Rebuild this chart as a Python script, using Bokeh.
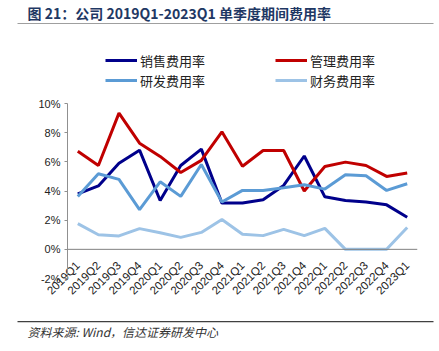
from bokeh.plotting import figure
from bokeh.layouts import column
from bokeh.models import (FactorRange, Range1d, FixedTicker, PrintfTickFormatter, Span,
                          Legend, LegendItem, Label)
from bokeh.embed import file_html
from bokeh.resources import INLINE
import math

quarters = ["2019Q1", "2019Q2", "2019Q3", "2019Q4", "2020Q1", "2020Q2", "2020Q3", "2020Q4",
            "2021Q1", "2021Q2", "2021Q3", "2021Q4", "2022Q1", "2022Q2", "2022Q3", "2022Q4", "2023Q1"]
sales_rate = [3.8, 4.35, 5.9, 6.8, 3.35, 5.75, 6.87, 3.17, 3.17, 3.4, 4.38, 6.4, 3.6, 3.35, 3.25, 3.05, 2.2]
admin_rate = [6.73, 5.75, 9.34, 7.28, 6.37, 5.27, 6.1, 8.06, 5.7, 6.78, 6.78, 4.0, 5.68, 5.98, 5.75, 5.0, 5.23]
rnd_rate = [3.63, 5.18, 4.8, 2.72, 4.63, 3.63, 5.82, 3.25, 4.04, 4.04, 4.22, 4.43, 4.13, 5.11, 5.04, 4.04, 4.5]
fin_rate = [1.76, 1.0, 0.92, 1.42, 1.14, 0.82, 1.16, 2.05, 1.03, 0.94, 1.37, 0.94, 1.44, 0.0, 0.0, 0.0, 1.5]
series_names = ["销售费用率", "管理费用率", "研发费用率", "财务费用率"]
y_ticks = [-2, 0, 2, 4, 6, 8, 10]
title_text = "图 21：公司 2019Q1-2023Q1 单季度期间费用率"
source_text = "资料来源: Wind，信达证券研发中心"

colors = ["#00008B", "#C00000", "#5B9BD5", "#9DC3E6"]


def blank(h):
    f = figure(width=439, height=h, output_backend="svg", toolbar_location=None,
               x_range=Range1d(0, 439), y_range=Range1d(0, h),
               x_axis_location=None, y_axis_location=None, frame_align=False,
               min_border=0, min_border_left=0, min_border_right=0, min_border_top=0, min_border_bottom=0)
    f.outline_line_color = None
    f.xgrid.grid_line_color = None
    f.ygrid.grid_line_color = None
    return f


def ruled(h, side):
    # a strip whose frame spans the rule's width; its bare x axis line is the rule
    f = figure(width=439, height=h, output_backend="svg", toolbar_location=None,
               x_range=Range1d(17, 433), y_range=Range1d(0, h),
               x_axis_location=side, y_axis_location=None, frame_align=False,
               min_border=0, min_border_left=17, min_border_right=6, min_border_top=0, min_border_bottom=0)
    f.outline_line_color = None
    f.xgrid.grid_line_color = None
    f.ygrid.grid_line_color = None
    f.xaxis.ticker = FixedTicker(ticks=[])
    f.xaxis.axis_line_color = "#404040"
    f.xaxis.axis_line_width = 2
    f.xaxis.major_tick_out = 0
    f.xaxis.major_tick_in = 0
    f.xaxis.minor_tick_out = 0
    f.xaxis.minor_tick_in = 0
    f.xaxis.major_label_standoff = 0
    return f


# title strip with rule underneath
TITLE_H = 24
tfig = ruled(TITLE_H, "below")
tfig.add_layout(Label(x=27, y=TITLE_H - 12, text=title_text, text_font="Noto Sans CJK SC",
                      text_font_size="14px", text_font_style="bold", text_color="#1F3864",
                      text_baseline="middle"))

# legend strip
LEG_H = 66
lfig = blank(LEG_H)
dummies = {n: lfig.line([0], [0], line_color=c, line_width=3) for n, c in zip(series_names, colors)}
order = ["销售费用率", "研发费用率", "管理费用率", "财务费用率"]
legend = Legend(items=[LegendItem(label=n, renderers=[dummies[n]]) for n in order],
                ncols=2, location=(105, 0), glyph_width=32, glyph_height=20, label_standoff=3,
                label_width=135, label_height=20, spacing=0, padding=0, margin=0,
                border_line_color=None, background_fill_alpha=0,
                label_text_font="Noto Sans CJK SC", label_text_font_size="13px",
                label_text_color="#222222")
lfig.add_layout(legend, "center")

# main chart
p = figure(width=439, height=231, output_backend="svg", toolbar_location=None,
           x_range=FactorRange(*quarters), y_range=Range1d(-2, 10), frame_align=False,
           min_border_left=67, min_border_right=22, min_border_top=13, min_border_bottom=43)
p.x_range.range_padding = 0
p.outline_line_color = None
p.xgrid.grid_line_color = None
p.ygrid.grid_line_color = None

for vals, c in zip([sales_rate, admin_rate, rnd_rate, fin_rate], colors):
    p.line(quarters, vals, line_color=c, line_width=3)

p.add_layout(Span(location=0, dimension="width", line_color="#808080", line_width=1))

p.yaxis.ticker = FixedTicker(ticks=y_ticks)
p.yaxis.formatter = PrintfTickFormatter(format="%d%%")
p.yaxis.axis_line_color = "#909090"
p.yaxis.major_tick_line_color = "#909090"
p.yaxis.major_tick_in = 0
p.yaxis.major_tick_out = 3
p.yaxis.minor_tick_line_color = None
p.yaxis.major_label_text_font = "Liberation Sans"
p.yaxis.major_label_text_font_size = "11px"
p.yaxis.major_label_text_color = "#222222"
p.yaxis.major_label_standoff = 4

p.xaxis.axis_line_color = None
p.xaxis.major_tick_line_color = None
p.xaxis.minor_tick_line_color = None
p.xaxis.major_tick_out = 0
p.xaxis.major_tick_in = 0
p.xaxis.major_label_orientation = math.pi / 4
p.xaxis.major_label_text_font = "Liberation Sans"
p.xaxis.major_label_text_font_size = "11.5px"
p.xaxis.major_label_text_color = "#222222"
p.xaxis.major_label_standoff = -15

# footer strip with rule on top
FOOT_H = 30
foot = ruled(FOOT_H, "above")
foot.xaxis.axis_line_width = 1.5
foot.add_layout(Label(x=27, y=FOOT_H - 10, text=source_text, text_font="Noto Sans CJK SC",
                      text_font_size="12px", text_font_style="italic", text_color="#333333",
                      text_baseline="middle"))

layout = column(tfig, lfig, p, foot, spacing=0)
open("out.html", "w").write(file_html(layout, INLINE))
